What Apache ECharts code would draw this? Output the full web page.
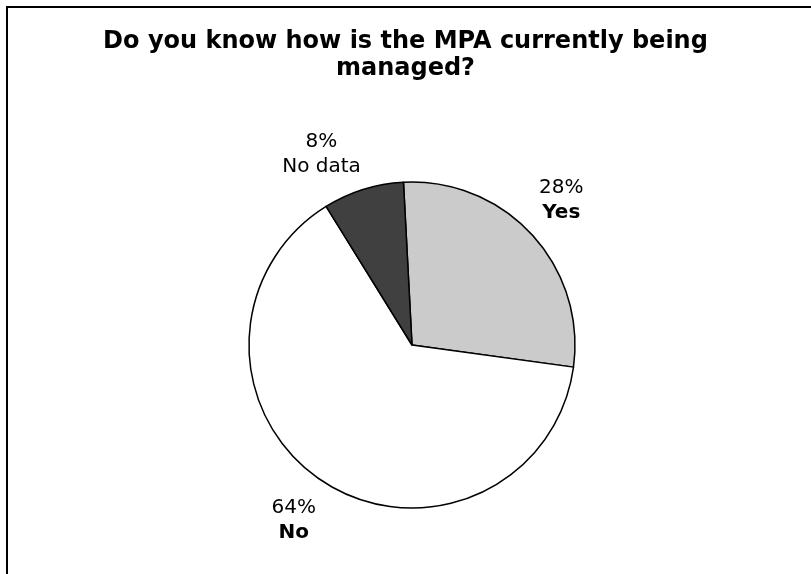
<!DOCTYPE html>
<html><head><meta charset="utf-8">
<script src="https://cdn.jsdelivr.net/npm/echarts@6/dist/echarts.min.js"></script>
<style>html,body{margin:0;padding:0;background:#fff}#c{width:811px;height:574px}</style>
</head><body><div id="c"></div>
<script>
const categories = ['Yes', 'No', 'No data'];
const values = [28, 64, 8];
const colors = ['#cbcbcb', '#ffffff', '#404040'];
const titleText = 'Do you know how is the MPA currently being\nmanaged?';
const labelOffsets = [[-9, -24], [6, 26], [7, -21]];

const chart = echarts.init(document.getElementById('c'), null, {renderer: 'canvas'});
chart.setOption({
  backgroundColor: '#fff',
  animation: false,
  title: {
    text: titleText, left: 'center', top: 23,
    textStyle: {fontFamily: 'DejaVu Sans', fontWeight: 'bold', fontSize: 24, lineHeight: 27, color: '#000'}
  },
  graphic: [{
    type: 'rect', shape: {x: 7, y: 7, width: 900, height: 700},
    style: {fill: 'none', stroke: '#000', lineWidth: 2}, silent: true
  }],
  series: [{
    type: 'pie', center: [412, 345], radius: 163, startAngle: 93, clockwise: true,
    data: categories.map((c, i) => ({
      name: c, value: values[i], itemStyle: {color: colors[i]},
      label: {offset: labelOffsets[i]}
    })),
    itemStyle: {borderColor: '#000', borderWidth: 1.5},
    label: {
      show: true, position: 'outside',
      formatter: p => '{p|' + p.value + '%}\n' + (p.name === 'No data' ? '{n|' + p.name + '}' : '{b|' + p.name + '}'),
      rich: {
        p: {fontFamily: 'DejaVu Sans', fontSize: 20, lineHeight: 25, color: '#000', align: 'center'},
        n: {fontFamily: 'DejaVu Sans', fontSize: 20, lineHeight: 25, color: '#000', align: 'center'},
        b: {fontFamily: 'DejaVu Sans', fontSize: 20, fontWeight: 'bold', lineHeight: 25, color: '#000', align: 'center'}
      }
    },
    labelLine: {show: false, length: 15, length2: 0},
    emphasis: {disabled: true}
  }]
});
</script></body></html>
